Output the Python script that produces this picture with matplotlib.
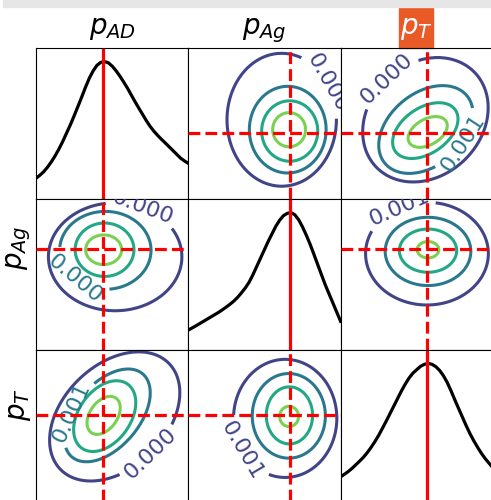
import numpy as np
import matplotlib
matplotlib.use("Agg")
import matplotlib.pyplot as plt
from matplotlib.patches import Rectangle

names = [r"$p_{AD}$", r"$p_{Ag}$", r"$p_T$"]
truth = [0.44, 0.67, 0.57]

# marginal curves (x and height in 0..1)
kde_x = np.linspace(0, 1, 41)
kde_ad = [0.137, 0.157, 0.18, 0.21, 0.245, 0.285, 0.33, 0.38, 0.435, 0.49, 0.55,
          0.612, 0.675, 0.74, 0.80, 0.848, 0.885, 0.905, 0.91, 0.902, 0.88,
          0.85, 0.815, 0.776, 0.735, 0.69, 0.645, 0.602, 0.56, 0.518, 0.48,
          0.448, 0.42, 0.394, 0.37, 0.345, 0.32, 0.295, 0.27, 0.252, 0.236]
kde_ag = [0.132, 0.146, 0.16, 0.175, 0.19, 0.205, 0.22, 0.235, 0.25, 0.267, 0.285,
          0.304, 0.325, 0.35, 0.38, 0.412, 0.45, 0.50, 0.555, 0.61, 0.665,
          0.72, 0.77, 0.82, 0.86, 0.89, 0.905, 0.91, 0.895, 0.862, 0.815,
          0.76, 0.70, 0.633, 0.565, 0.497, 0.43, 0.37, 0.31, 0.25, 0.19]
kde_t = [0.16, 0.177, 0.195, 0.216, 0.24, 0.264, 0.29, 0.32, 0.355, 0.393, 0.435,
         0.482, 0.53, 0.58, 0.63, 0.68, 0.73, 0.775, 0.815, 0.847, 0.87,
         0.892, 0.905, 0.912, 0.905, 0.89, 0.865, 0.83, 0.785, 0.73, 0.67,
         0.612, 0.555, 0.498, 0.445, 0.398, 0.355, 0.315, 0.28, 0.25, 0.22]
kdes = [kde_ad, kde_ag, kde_t]

# contour rings, inner -> outer: centre x, centre y, half axis a, half axis b, angle (deg)
ad_ag = [[0.662, 0.459, 0.108, 0.113, 0], [0.666, 0.450, 0.184, 0.200, 0],
         [0.653, 0.459, 0.252, 0.287, 0], [0.613, 0.525, 0.359, 0.440, 0]]
ad_t = [[0.572, 0.444, 0.14, 0.085, 30], [0.556, 0.453, 0.24, 0.15, 35],
        [0.560, 0.460, 0.35, 0.24, 40], [0.557, 0.525, 0.45, 0.37, 45]]
ag_ad = [[0.444, 0.664, 0.118, 0.098, 0], [0.450, 0.664, 0.193, 0.177, 0],
         [0.455, 0.660, 0.300, 0.258, 0], [0.520, 0.617, 0.438, 0.357, 0]]
ag_t = [[0.574, 0.664, 0.071, 0.054, 0], [0.574, 0.658, 0.188, 0.143, 0],
        [0.574, 0.653, 0.281, 0.226, 0], [0.567, 0.638, 0.403, 0.340, 0]]
t_ad = [[0.444, 0.567, 0.14, 0.09, 55], [0.451, 0.562, 0.26, 0.17, 55],
        [0.468, 0.567, 0.36, 0.21, 50], [0.517, 0.560, 0.50, 0.34, 45]]
t_ag = [[0.662, 0.560, 0.062, 0.067, 0], [0.664, 0.567, 0.152, 0.189, 0],
        [0.660, 0.564, 0.240, 0.280, 0], [0.636, 0.547, 0.339, 0.391, 0]]
rings = {(0, 1): ad_ag, (0, 2): ad_t, (1, 0): ag_ad,
         (1, 2): ag_t, (2, 0): t_ad, (2, 1): t_ag}

# contour label text per ring (inner -> outer) and approx. label positions
label_txt = {(0, 1): ["", "", "", "0.000"],
             (0, 2): ["", "", "0.001", "0.000"],
             (1, 0): ["", "", "0.000", "0.000"],
             (1, 2): ["", "", "", "0.001"],
             (2, 0): ["", "", "0.001", "0.000"],
             (2, 1): ["", "", "", "0.001"]}
label_pos = {(0, 1): [(0.90, 0.76)],
             (0, 2): [(0.30, 0.80), (0.82, 0.36)],
             (1, 0): [(0.68, 0.90), (0.27, 0.49)],
             (1, 2): [(0.40, 0.91)],
             (2, 0): [(0.21, 0.60), (0.76, 0.30)],
             (2, 1): [(0.36, 0.34)]}

ring_colors = ["#7ad151", "#22a884", "#2a788e", "#414487"]


def ring_field(X, Y, rr):
    cx, cy, a, b, ang = np.array(rr, float).T
    d = np.full(X.shape, a[0])
    for _ in range(80):
        x0 = np.interp(d, a, cx); y0 = np.interp(d, a, cy)
        q = np.interp(d, a, b / a); t = np.deg2rad(np.interp(d, a, ang))
        u = (X - x0) * np.cos(t) + (Y - y0) * np.sin(t)
        v = -(X - x0) * np.sin(t) + (Y - y0) * np.cos(t)
        d = 0.5 * d + 0.5 * np.hypot(u, v / q)
    return d, a


fig, axes = plt.subplots(3, 3, figsize=(4.91, 5.0), dpi=100,
                         gridspec_kw=dict(left=36/491, right=(36 + 3*152.3)/491,
                                          top=1 - 48/500, bottom=1 - 501/500,
                                          wspace=0, hspace=0))
g = np.linspace(0, 1, 301)
X, Y = np.meshgrid(g, g)

for i in range(3):
    for j in range(3):
        ax = axes[i, j]
        ax.set_xlim(0, 1); ax.set_ylim(0, 1)
        ax.set_xticks([]); ax.set_yticks([])
        if i == j:
            ax.plot(kde_x, kdes[i], color="black", lw=2.3)
            ax.axvline(truth[i], color="red", lw=2.3)
        else:
            F, lev = ring_field(X, Y, rings[(i, j)])
            cs = ax.contour(X, Y, F, levels=lev, colors=ring_colors, linewidths=2.2)
            fmt = dict(zip(cs.levels, label_txt[(i, j)]))
            ax.clabel(cs, fmt=fmt, fontsize=16, manual=label_pos[(i, j)], inline=True)
            ax.axvline(truth[j], color="red", lw=2.3, ls="--", zorder=4)
            ax.axhline(truth[i], color="red", lw=2.3, ls="--", zorder=4)

for j in range(3):
    axes[0, j].set_title(names[j], fontsize=20, pad=10,
                         color="white" if j == 2 else "black")
axes[0, 2].add_patch(Rectangle((0.386, 1.0), 0.219, 0.3, transform=axes[0, 2].transAxes,
                               clip_on=False, color="#e95a26", zorder=1))
axes[1, 0].set_ylabel(names[1], fontsize=20)
axes[1, 0].yaxis.set_label_coords(-0.02, 0.68)
axes[2, 0].set_ylabel(names[2], fontsize=20)
axes[2, 0].yaxis.set_label_coords(-0.02, 0.64)

# grey strip along the top edge
fig.add_artist(Rectangle((3/491, 1 - 7/500), 1, 7/500, transform=fig.transFigure,
                         color="#e6e6e6", zorder=5))

fig.savefig("out.png", dpi=100)
